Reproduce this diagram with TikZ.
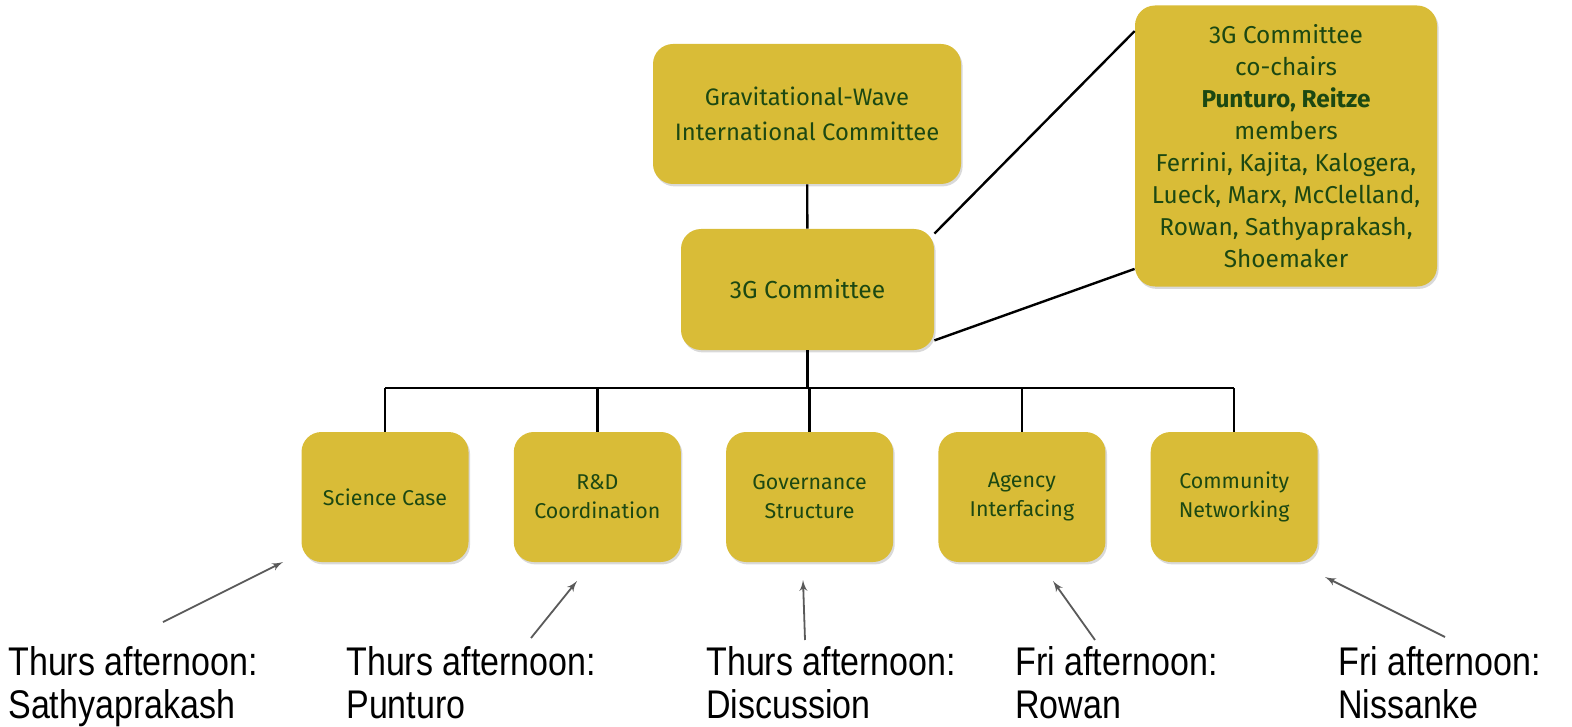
\documentclass[tikz,border=0pt]{standalone}
\usepackage{fontspec}
\usepackage{tikz}
\usetikzlibrary{positioning}
\usetikzlibrary{shadows}
\usetikzlibrary{arrows}
\newfontfamily\boxfont{Fira Sans}
\newfontfamily\notefont[FakeStretch=0.85]{Liberation Sans}
\definecolor{gold}{RGB}{217,188,55}
\definecolor{leaf}{RGB}{28,72,18}
\definecolor{pointer}{RGB}{90,90,90}

\begin{document}
\begin{tikzpicture}[x=0.5pt,y=-0.5pt,>=latex',
	gold box/.style={rectangle,rounded corners=10pt,fill=gold,text=leaf,align=center,
		drop shadow={opacity=0.3,shadow xshift=0.8pt,shadow yshift=-1.2pt}},
	team box/.style={gold box,minimum width=83.5pt,minimum height=65pt,
		font=\boxfont\fontsize{10.7}{14.5}\selectfont},
	note/.style={anchor=north west,inner sep=0pt,align=left,
		font=\notefont\fontsize{20}{21.5}\selectfont},
	link/.style={line width=1.2pt},
	pointer arrow/.style={->,draw=pointer,line width=0.9pt}]
	
	\useasboundingbox (0,0) rectangle (1572,727);
	
	\node[gold box,minimum width=154pt,minimum height=70pt,
		font=\boxfont\fontsize{11.9}{17.5}\selectfont] (gwic) at (807,114) {Gravitational-Wave\\International Committee};
	\node[gold box,minimum width=126.5pt,minimum height=60.5pt,
		font=\boxfont\fontsize{12.3}{17.5}\selectfont] (tgc) at (807.5,289.5) {3G Committee};
	\node[gold box,minimum width=151pt,minimum height=140.5pt,
		font=\boxfont\fontsize{12.2}{16}\selectfont] (members) at (1286,146)
		{3G Committee\\co-chairs\\\textbf{Punturo, Reitze}\\members\\Ferrini, Kajita, Kalogera,\\Lueck, Marx, McClelland,\\Rowan, Sathyaprakash,\\Shoemaker};
	
	% working groups
	\node[team box] (sci) at (385,497) {Science Case};
	\node[team box,right=22.25pt of sci] (rnd) {R\&D\\Coordination};
	\node[team box,right=22.25pt of rnd] (gov) {Governance\\Structure};
	\node[team box,right=22.25pt of gov] (agency) {Agency\\Interfacing};
	\node[team box,right=22.25pt of agency] (comm) {Community\\Networking};
	
	\coordinate (bus) at (0,388);
	\draw[link] (gwic) -- (tgc);
	\draw[link] (tgc.south) -- (tgc.south |- bus);
	\draw[link] (sci.north |- bus) -- (comm.north |- bus);
	\foreach \team in {sci,rnd,gov,agency,comm}
		\draw[link] (\team.north) -- (\team.north |- bus);
	\draw[link] ([yshift=-2.5pt]tgc.north east) -- ([yshift=-13pt]members.north west);
	\draw[link] ([yshift=5pt]tgc.south east) -- ([yshift=9pt]members.south west);
	
	% session notes
	\node[note] (lsci) at (8,646) {Thurs afternoon:\\Sathyaprakash};
	\node[note] (lrnd) at (346,646) {Thurs afternoon:\\Punturo};
	\node[note] (lgov) at (706,646) {Thurs afternoon:\\Discussion};
	\node[note] (lagency) at (1015,646) {Fri afternoon:\\Rowan};
	\node[note] (lcomm) at (1338,646) {Fri afternoon:\\Nissanke};
	
	\coordinate (psci) at (163,622);
	\coordinate (qsci) at (283,562);
	\coordinate (prnd) at (531,638);
	\coordinate (qrnd) at (577,581);
	\coordinate (pgov) at (805,640);
	\coordinate (qgov) at (803,580);
	\coordinate (pagency) at (1095,640);
	\coordinate (qagency) at (1053,581);
	\coordinate (pcomm) at (1445,637);
	\coordinate (qcomm) at (1325,577);
	\foreach \team in {sci,rnd,gov,agency,comm}
		\draw[pointer arrow] (p\team) -- (q\team);
\end{tikzpicture}
\end{document}
